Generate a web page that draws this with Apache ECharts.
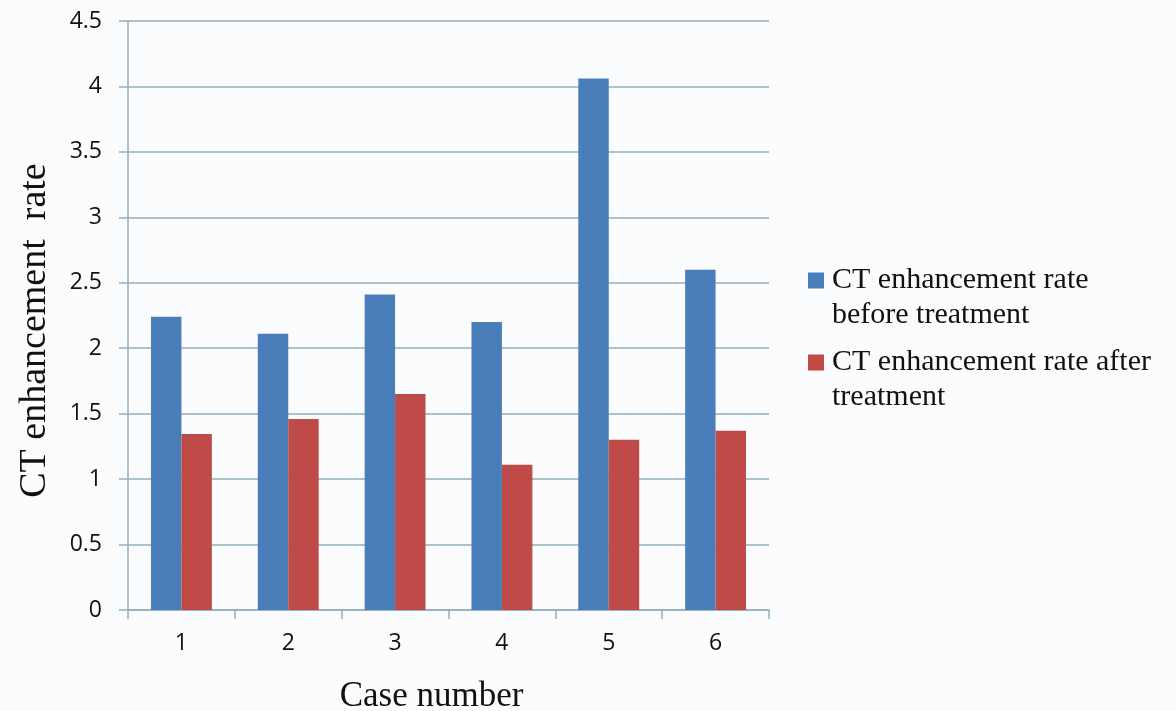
<!DOCTYPE html>
<html>
<head>
<meta charset="utf-8">
<script src="https://cdn.jsdelivr.net/npm/echarts@6/dist/echarts.min.js"></script>
<style>
html,body{margin:0;padding:0;background:#fbfcfe;}
#chart{width:1176px;height:711px;}
</style>
</head>
<body>
<div id="chart"></div>
<script>
const categories = ['1', '2', '3', '4', '5', '6'];
const beforeValues = [2.24, 2.11, 2.41, 2.20, 4.06, 2.60];
const afterValues = [1.345, 1.46, 1.65, 1.11, 1.30, 1.37];
const seriesNames = ['CT enhancement rate before treatment', 'CT enhancement rate after treatment'];
const legendLines = {
  'CT enhancement rate before treatment': ['CT enhancement rate', 'before treatment'],
  'CT enhancement rate after treatment': ['CT enhancement rate after', 'treatment']
};
const yTicks = [0, 0.5, 1, 1.5, 2, 2.5, 3, 3.5, 4, 4.5];

const BLUE = '#4A7EBB';
const RED = '#BE4B48';
const GRID = '#93afbe';

const chart = echarts.init(document.getElementById('chart'), null, {renderer: 'canvas'});
chart.setOption({
  backgroundColor: '#fbfcfe',
  animation: false,
  grid: {left: 128, right: 407, top: 21, bottom: 101, containLabel: false, outerBoundsMode: 'none'},
  legend: {
    orient: 'vertical',
    left: 798,
    top: 258,
    itemWidth: 0,
    itemHeight: 16,
    itemGap: 12,
    selectedMode: false,
    icon: 'rect',
    data: seriesNames,
    formatter: function (name) {
      const lines = legendLines[name];
      const sq = name === seriesNames[0] ? 'a' : 'b';
      return '{' + sq + '|}{t|' + lines[0] + '}\n{s|}{t|' + lines[1] + '}';
    },
    textStyle: {
      fontFamily: 'Liberation Serif',
      fontSize: 30,
      color: '#111',
      lineHeight: 35,
      rich: {
        a: {width: 16, height: 16, backgroundColor: BLUE},
        b: {width: 16, height: 16, backgroundColor: RED},
        s: {width: 16, height: 16},
        t: {fontFamily: 'Liberation Serif', fontSize: 30, color: '#111', lineHeight: 35, padding: [0, 0, 0, 8]}
      }
    }
  },
  xAxis: {
    type: 'category',
    data: categories,
    name: 'Case number',
    nameLocation: 'middle',
    nameGap: 69,
    nameTextStyle: {fontFamily: 'Liberation Serif', fontSize: 35, color: '#111', padding: [0, 34, 0, 0]},
    axisLine: {show: true, lineStyle: {color: GRID, width: 1.5}},
    axisTick: {show: true, length: 9, alignWithLabel: false, lineStyle: {color: GRID, width: 1.5}},
    axisLabel: {fontFamily: 'Open Sans', fontSize: 23, color: '#111', margin: 22}
  },
  yAxis: {
    type: 'value',
    min: 0,
    max: 4.5,
    interval: 0.5,
    name: 'CT enhancement  rate',
    nameLocation: 'middle',
    nameRotate: 90,
    nameGap: 74,
    nameTextStyle: {fontFamily: 'Liberation Serif', fontSize: 38, color: '#111', padding: [0, 30, 0, 0]},
    axisLine: {show: true, lineStyle: {color: GRID, width: 1.5}},
    axisTick: {show: true, length: 9, lineStyle: {color: GRID, width: 1.5}},
    splitLine: {show: true, lineStyle: {color: GRID, width: 1.5}},
    axisLabel: {
      fontFamily: 'Open Sans', fontSize: 23, color: '#111', margin: 26,
      formatter: function (v) { return yTicks.indexOf(v) >= 0 ? String(v) : ''; }
    }
  },
  series: [
    {
      name: seriesNames[0], type: 'bar', data: beforeValues,
      itemStyle: {color: BLUE},
      barGap: '0%', barCategoryGap: '43%'
    },
    {
      name: seriesNames[1], type: 'bar', data: afterValues,
      itemStyle: {color: RED},
      barGap: '0%', barCategoryGap: '43%'
    }
  ]
});
</script>
</body>
</html>
